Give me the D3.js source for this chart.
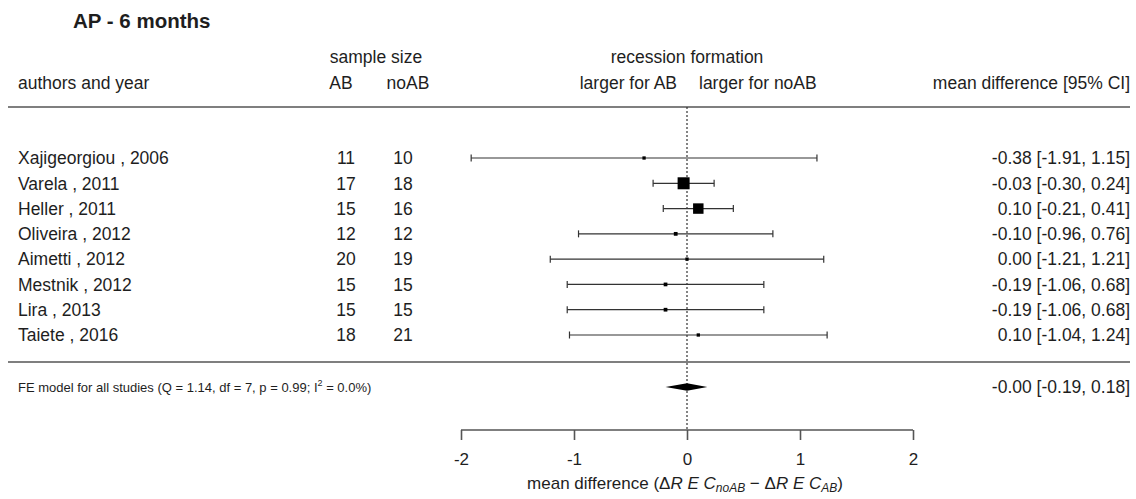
<!DOCTYPE html>
<html>
<head>
<meta charset="utf-8">
<script src="https://cdn.jsdelivr.net/npm/d3@7"></script>
<style>
  html, body { margin: 0; padding: 0; background: #fff; }
  svg { display: block; font-family: "Liberation Sans", Arial, sans-serif; }
</style>
</head>
<body>
<svg id="chart" width="1136" height="499"></svg>
<script>
// ---- data ----
const studies = ["Xajigeorgiou , 2006", "Varela , 2011", "Heller , 2011", "Oliveira , 2012",
                 "Aimetti , 2012", "Mestnik , 2012", "Lira , 2013", "Taiete , 2016"];
const nAB   = [11, 17, 15, 12, 20, 15, 15, 18];
const nNoAB = [10, 18, 16, 12, 19, 15, 15, 21];
const est   = [-0.38, -0.03, 0.10, -0.10, 0.00, -0.19, -0.19, 0.10];
const lower = [-1.91, -0.30, -0.21, -0.96, -1.21, -1.06, -1.06, -1.04];
const upper = [ 1.15,  0.24,  0.41,  0.76,  1.21,  0.68,  0.68,  1.24];
const pooledEst = [-0.00, -0.19, 0.18];   // estimate, lower, upper
const pooledText = "-0.00 [-0.19, 0.18]";
const pooledLabel = "FE model for all studies (Q = 1.14, df = 7, p = 0.99; I";
const xTicks = [-2, -1, 0, 1, 2];

// ---- layout ----
const svg = d3.select("#chart");
const textCol = "#1e1e1e";
const lineCol = "#555";
const fs = 17.5;

const x = d3.scaleLinear().domain([-2, 2]).range([461, 913]);
const y = d3.scaleLinear().domain([0, studies.length - 1]).range([158, 335]);
const yPooled = 387;
const yAxis = 430;

const fmt = v => v.toFixed(2).replace("\u2212", "-");

// title
svg.append("text").attr("x", 73).attr("y", 28)
  .attr("font-size", 20.5).attr("font-weight", "bold").attr("fill", textCol)
  .text("AP - 6 months");

// headers
const hdr = (t, xx, yy, anchor) => svg.append("text").attr("x", xx).attr("y", yy)
  .attr("font-size", fs).attr("fill", textCol).attr("text-anchor", anchor).text(t);
hdr("sample size", 376, 63, "middle");
hdr("authors and year", 18, 89, "start");
hdr("AB", 341, 89, "middle");
hdr("noAB", 408, 89, "middle");
hdr("recession formation", 687, 63, "middle");
hdr("larger for AB", 677, 89, "end");
hdr("larger for noAB", 699, 89, "start");
hdr("mean difference [95% CI]", 1130, 89, "end");

// horizontal rules
[107, 362].forEach(yy => svg.append("line")
  .attr("x1", 8).attr("x2", 1130).attr("y1", yy).attr("y2", yy)
  .attr("stroke", lineCol).attr("stroke-width", 1.6));

// reference dotted line at 0
svg.append("line").attr("x1", x(0)).attr("x2", x(0))
  .attr("y1", 107).attr("y2", yAxis)
  .attr("stroke", "#333").attr("stroke-width", 1.2).attr("stroke-dasharray", "2,2");

// rows
const rows = studies.map((s, i) => ({ s, i, ab: nAB[i], no: nNoAB[i], e: est[i], lo: lower[i], hi: upper[i] }));
const seArr = rows.map(r => (r.hi - r.lo) / 3.92);
const wMax = d3.max(seArr, s => 1 / s);
const sizeOf = se => Math.max(3.3, 12 * (1 / se) / wMax);

const g = svg.append("g").selectAll("g").data(rows).join("g");

g.append("text").attr("x", 18).attr("y", d => y(d.i)).attr("dy", "0.36em")
  .attr("font-size", fs).attr("fill", textCol).text(d => d.s);
g.append("text").attr("x", 346).attr("y", d => y(d.i)).attr("dy", "0.36em")
  .attr("font-size", fs).attr("fill", textCol).attr("text-anchor", "middle").text(d => d.ab);
g.append("text").attr("x", 403).attr("y", d => y(d.i)).attr("dy", "0.36em")
  .attr("font-size", fs).attr("fill", textCol).attr("text-anchor", "middle").text(d => d.no);
g.append("text").attr("x", 1130).attr("y", d => y(d.i)).attr("dy", "0.36em")
  .attr("font-size", fs).attr("fill", textCol).attr("text-anchor", "end")
  .text(d => `${fmt(d.e)} [${fmt(d.lo)}, ${fmt(d.hi)}]`);

// CI lines
g.append("line").attr("x1", d => x(d.lo)).attr("x2", d => x(d.hi))
  .attr("y1", d => y(d.i)).attr("y2", d => y(d.i))
  .attr("stroke", "#333").attr("stroke-width", 1.2);
g.append("line").attr("x1", d => x(d.lo)).attr("x2", d => x(d.lo))
  .attr("y1", d => y(d.i) - 3.5).attr("y2", d => y(d.i) + 3.5).attr("stroke", "#333").attr("stroke-width", 1.2);
g.append("line").attr("x1", d => x(d.hi)).attr("x2", d => x(d.hi))
  .attr("y1", d => y(d.i) - 3.5).attr("y2", d => y(d.i) + 3.5).attr("stroke", "#333").attr("stroke-width", 1.2);
g.append("rect")
  .attr("x", (d, i) => x(d.e) - sizeOf(seArr[i]) / 2)
  .attr("y", (d, i) => y(d.i) - sizeOf(seArr[i]) / 2)
  .attr("width", (d, i) => sizeOf(seArr[i]))
  .attr("height", (d, i) => sizeOf(seArr[i]))
  .attr("fill", "#000");

// pooled row
const ft = svg.append("text").attr("x", 18).attr("y", yPooled).attr("dy", "0.36em")
  .attr("font-size", 13).attr("fill", textCol);
ft.append("tspan").text(pooledLabel);
ft.append("tspan").attr("font-size", 9).attr("dy", "-0.65em").text("2");
ft.append("tspan").attr("dy", "0.45em").text(" = 0.0%)");

const [pe, pl, pu] = pooledEst;
svg.append("path")
  .attr("d", `M${x(pl)},${yPooled} L${x(pe)},${yPooled - 3.8} L${x(pu)},${yPooled} L${x(pe)},${yPooled + 3.8} Z`)
  .attr("fill", "#000");
svg.append("text").attr("x", 1130).attr("y", yPooled).attr("dy", "0.36em")
  .attr("font-size", fs).attr("fill", textCol).attr("text-anchor", "end")
  .text(pooledText);

// axis
const axis = d3.axisBottom(x).tickValues(xTicks).tickSize(-10).tickPadding(0)
  .tickFormat(d => String(d));
const ax = svg.append("g").attr("transform", `translate(0,${yAxis + 10})`).call(axis);
ax.select(".domain").remove();
ax.append("line").attr("x1", x(-2)).attr("x2", x(2)).attr("y1", -10).attr("y2", -10)
  .attr("stroke", lineCol).attr("stroke-width", 1.6);
ax.selectAll(".tick line").attr("stroke", lineCol).attr("stroke-width", 1.6);
ax.selectAll(".tick text").attr("font-size", 17).attr("fill", textCol)
  .attr("font-family", "Liberation Sans, Arial, sans-serif").attr("dy", "0.36em")
  .attr("y", 19);

// axis title
const at = svg.append("text").attr("x", 685).attr("y", 489).attr("text-anchor", "middle")
  .attr("font-size", 17).attr("fill", textCol);
at.append("tspan").text("mean difference (\u0394");
at.append("tspan").attr("font-style", "italic").text("R E C");
at.append("tspan").attr("font-style", "italic").attr("font-size", 12).attr("dy", 3).text("noAB");
at.append("tspan").attr("dy", -3).text(" \u2212 \u0394");
at.append("tspan").attr("font-style", "italic").text("R E C");
at.append("tspan").attr("font-style", "italic").attr("font-size", 12).attr("dy", 3).text("AB");
at.append("tspan").attr("dy", -3).text(")");
</script>
</body>
</html>
